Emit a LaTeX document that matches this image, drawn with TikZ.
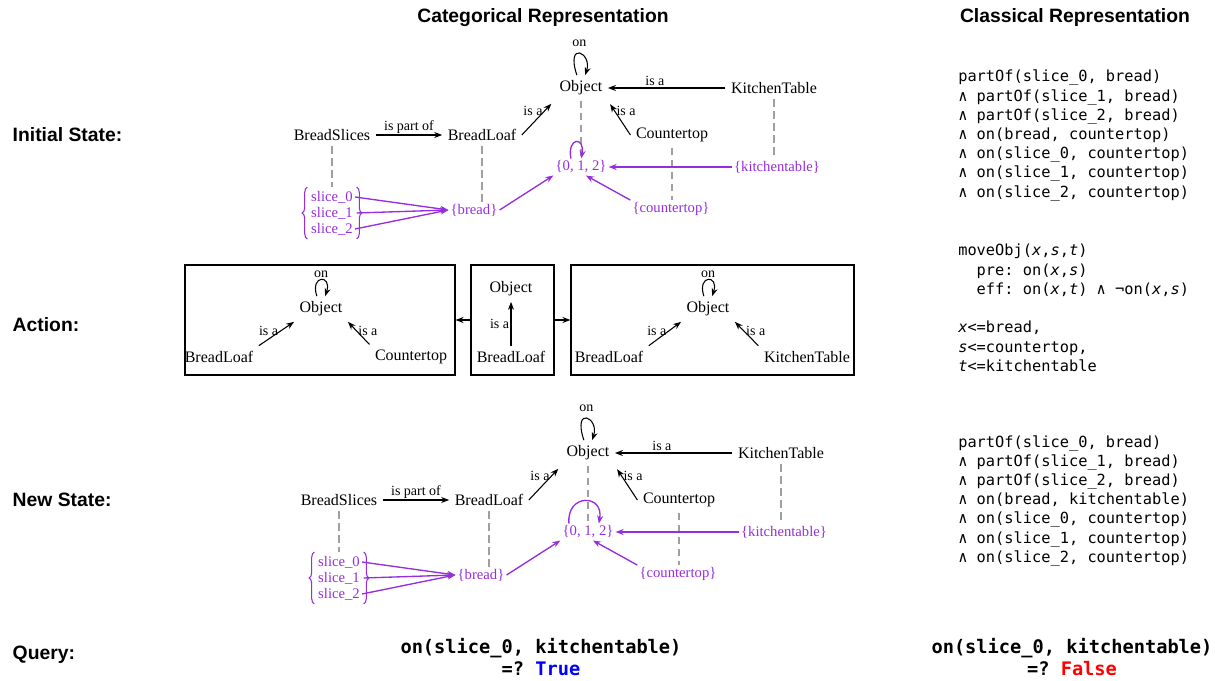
\documentclass[tikz,border=0pt]{standalone}
\usepackage{fontspec}
\setmainfont{Liberation Serif}
\setsansfont{Liberation Sans}
\setmonofont{DejaVu Sans Mono}
\usetikzlibrary{arrows.meta,decorations.pathreplacing,fit}
\definecolor{setpurple}{RGB}{150,45,222}
\tikzset{
  head/.style={font=\sffamily\bfseries\fontsize{14.5}{17}\selectfont},
  obj/.style={font=\fontsize{12}{14}\selectfont, inner sep=4pt},
  rel/.style={font=\fontsize{10.5}{12}\selectfont, inner sep=1pt},
  elem/.style={text=setpurple, font=\fontsize{11}{13}\selectfont, inner sep=1.5pt},
  arr/.style={-{Stealth[length=6pt,width=4.5pt]}, line width=0.8pt},
  parr/.style={arr, draw=setpurple, fill=setpurple, line width=1pt},
  map/.style={draw=gray!75, line width=1.3pt, dash pattern=on 5.5pt off 3.5pt},
  mono/.style={font=\ttfamily\fontsize{11.5}{14.4}\selectfont, align=left, inner sep=0pt, anchor=north west},
  query/.style={font=\ttfamily\bfseries\fontsize{14}{17}\selectfont, align=center},
  actbox/.style={draw, line width=0.8pt, minimum height=82.5pt},
  selfloop/.style={arr, out=108, in=72, looseness=7}
}
\begin{document}
\begin{tikzpicture}[x=0.75pt,y=-0.75pt]
  \useasboundingbox (0,0) rectangle (1215,681);
  % headings and row labels
  \node[head] (hcat) at (543,18) {Categorical Representation};
  \node[head] (hcls) at (1075,18) {Classical Representation};
  \node[head, anchor=west] (rini) at (8,135) {Initial State:};
  \node[head, anchor=west] (ract) at (8,325) {Action:};
  \node[head, anchor=west] (rnew) at (8,500) {New State:};
  \node[head, anchor=west] (rqry) at (8,655) {Query:};

  % initial and new state
  \foreach \pre/\dx/\dy/\la/\lb/\lout/\lin/\lloose in {ini/0/0/140/88/100/80/5.5,new/7/365/156/38/95/80/2.6}{
    \begin{scope}[shift={(\dx,\dy)}, name prefix=\pre-]
      \node[obj] (obj) at (581,88) {Object};
      \node[obj] (kt) at (774,88) {KitchenTable};
      \node[obj] (bs) at (332,135) {BreadSlices};
      \node[obj] (bl) at (482,135) {BreadLoaf};
      \node[obj] (ct) at (672,135) {Countertop};
      \draw[selfloop] (obj) to node[rel,above=4pt]{on} (obj);
      \draw[arr] (kt) -- node[rel,above,pos=0.6]{is a} (obj);
      \draw[arr] (bs) -- node[rel,above]{is part of} (bl);
      \draw[arr,shorten >=3pt] (bl.east) -- node[rel,left,pos=0.7]{is a} (obj.south west);
      \draw[arr,shorten >=3pt] (ct.west) -- node[rel,right,pos=0.7]{is a} (obj.south east);
      % elements
      \node[elem] (set) at (581,167) {\{0, 1, 2\}};
      \node[elem] (kset) at (777,167) {\{kitchentable\}};
      \node[elem] (bread) at (474,210) {\{bread\}};
      \node[elem] (cset) at (671,209) {\{countertop\}};
      \node[elem] (s0) at (332,197) {slice\_0};
      \node[elem] (s1) at (332,213) {slice\_1};
      \node[elem] (s2) at (332,229) {slice\_2};
      \node[inner sep=1pt, fit=(s0)(s1)(s2)] (sl) {};
      \draw[setpurple, line width=0.8pt, decorate, decoration={brace,amplitude=4pt}] (sl.south west) -- (sl.north west);
      \draw[setpurple, line width=0.8pt, decorate, decoration={brace,amplitude=4pt}] (sl.north east) -- (sl.south east);
      \draw[map] (bs.south) -- (bs.south |- sl.north);
      \draw[map] (bl.south) -- (bl.south |- bread.north);
      \draw[map] (obj.south) -- (obj.south |- set.north);
      \draw[map] (ct.south) -- (ct.south |- cset.north);
      \draw[map] (kt.south) -- (kt.south |- kset.north);
      \draw[parr] (s0.east) -- (bread.west);
      \draw[parr] (sl.east) -- (bread.west);
      \draw[parr] (s2.east) -- (bread.west);
      \draw[parr] (bread.east) -- (set.south west);
      \draw[parr] (cset.north west) -- (set.-60);
      \draw[parr] (kset) -- (set);
      \draw[parr, fill=none] (set.\la) to[out=\lout,in=\lin,looseness=\lloose] (set.\lb);
    \end{scope}
  }

  % action
  \node[actbox, minimum width=202.5pt] (act1) at (320,320) {};
  \node[actbox, minimum width=62.25pt] (act2) at (512.5,320) {};
  \node[actbox, minimum width=212.25pt] (act3) at (712.5,320) {};
  \draw[arr] (act2) -- (act1);
  \draw[arr] (act2) -- (act3);

  \node[obj] (a1obj) at (321,309) {Object};
  \node[obj] (a1bl) at (219,357) {BreadLoaf};
  \node[obj] (a1ct) at (411,357) {Countertop};
  \draw[selfloop] (a1obj) to node[rel,above=0pt]{on} (a1obj);
  \draw[arr] (a1bl.north east) -- node[rel,left,pos=0.6]{is a} (a1obj.south west);
  \draw[arr] (a1ct.north west) -- node[rel,right,pos=0.6]{is a} (a1obj.south east);

  \node[obj] (a2obj) at (511,289) {Object};
  \node[obj] (a2bl) at (511,357) {BreadLoaf};
  \draw[arr] (a2bl) -- node[rel,left]{is a} (a2obj);

  \node[obj] (a3obj) at (708,309) {Object};
  \node[obj] (a3bl) at (609,357) {BreadLoaf};
  \node[obj] (a3kt) at (807,357) {KitchenTable};
  \draw[selfloop] (a3obj) to node[rel,above=0pt]{on} (a3obj);
  \draw[arr] (a3bl.north east) -- node[rel,left,pos=0.6]{is a} (a3obj.south west);
  \draw[arr] (a3kt.north west) -- node[rel,right,pos=0.6]{is a} (a3obj.south east);

  % classical representation
  \node[mono] (cini) at (958,70) {partOf(slice\_0, bread)\\
    ∧ partOf(slice\_1, bread)\\
    ∧ partOf(slice\_2, bread)\\
    ∧ on(bread, countertop)\\
    ∧ on(slice\_0, countertop)\\
    ∧ on(slice\_1, countertop)\\
    ∧ on(slice\_2, countertop)};
  \node[mono] (cact) at (958,244) {moveObj(\textit{x},\textit{s},\textit{t})\\
    \phantom{pr}pre: on(\textit{x},\textit{s})\\
    \phantom{pr}eff: on(\textit{x},\textit{t}) ∧ ¬on(\textit{x},\textit{s})};
  \node[mono] (cbind) at (958,321) {\textit{x}<=bread,\\
    \textit{s}<=countertop,\\
    \textit{t}<=kitchentable};
  \node[mono] (cnew) at (958,435) {partOf(slice\_0, bread)\\
    ∧ partOf(slice\_1, bread)\\
    ∧ partOf(slice\_2, bread)\\
    ∧ on(bread, kitchentable)\\
    ∧ on(slice\_0, countertop)\\
    ∧ on(slice\_1, countertop)\\
    ∧ on(slice\_2, countertop)};

  % query
  \node[query] (qcat) at (541,657) {on(slice\_0, kitchentable)\\=? {\color{blue}True}};
  \node[query] (qcls) at (1072,657) {on(slice\_0, kitchentable)\\=? {\color{red}False}};
\end{tikzpicture}
\end{document}
